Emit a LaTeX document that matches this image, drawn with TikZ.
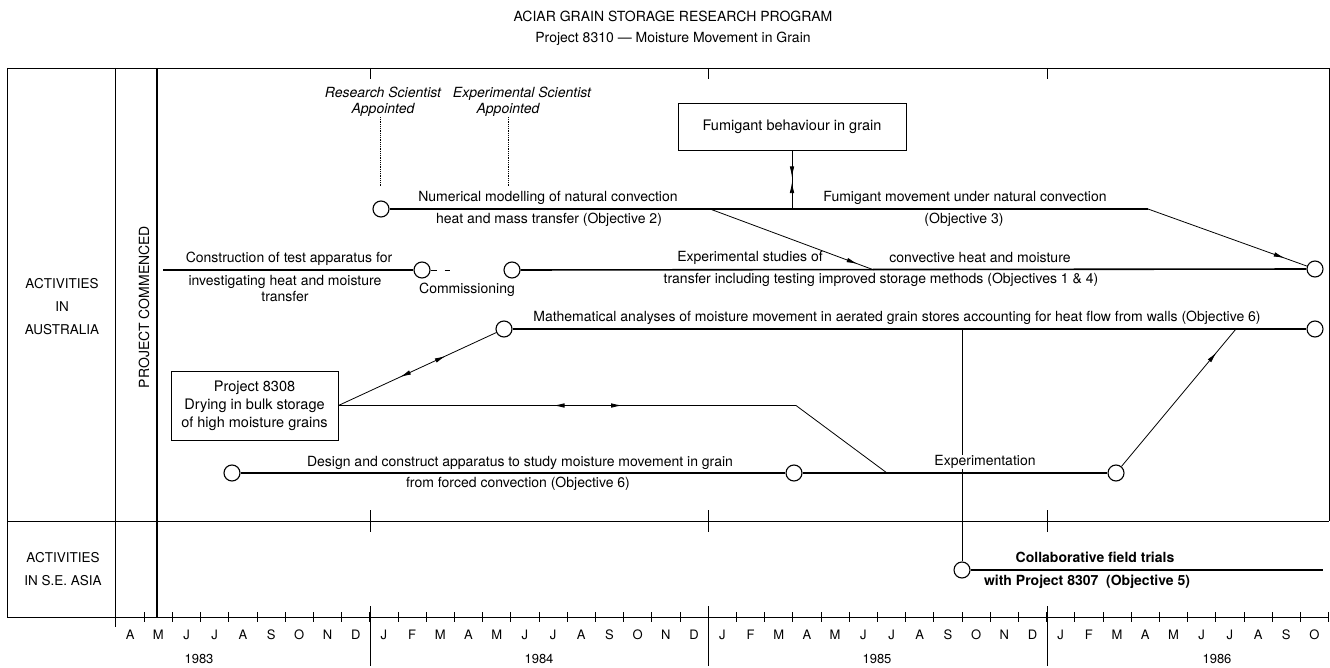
\documentclass[tikz,border=0pt]{standalone}
\usepackage{fontspec}
\setmainfont{TeX Gyre Heros}
\usetikzlibrary{arrows.meta,decorations.markings}

\tikzset{
  >={Latex[length=11pt,width=4.5pt]},
  fwd/.style={postaction={decorate,decoration={markings,mark=at position #1 with {\arrow{>}}}}},
  bwd/.style={postaction={decorate,decoration={markings,mark=at position #1 with {\arrowreversed{>}}}}},
}

\begin{document}
\begin{tikzpicture}[x=1pt, y=-1pt,
  lbl/.style={inner sep=0pt, align=center, font=\fontsize{14}{16}\selectfont},
  caps/.style={inner sep=0pt, align=center, font=\fontsize{13.5}{23}\selectfont},
  note/.style={inner sep=0pt, align=center, font=\fontsize{14}{15.5}\selectfont\itshape},
  month/.style={inner sep=0pt, font=\fontsize{13}{14}\selectfont},
  box/.style={rectangle, draw, line width=0.9pt, inner sep=0pt, align=center, font=\fontsize{14.5}{18}\selectfont},
  milestone/.style={circle, draw, line width=1.1pt, fill=white, minimum size=16pt, inner sep=0pt},
  gridline/.style={line width=0.8pt},
  act/.style={line width=1.6pt},
  conn/.style={line width=0.8pt}]
  \useasboundingbox (0,0) rectangle (1330,668);

  % heading
  \node[lbl] (title) at (673,16) {ACIAR GRAIN STORAGE RESEARCH PROGRAM};
  \node[lbl] (subtitle) at (673,39) {Project 8310 --- Moisture Movement in Grain};

  % frame and time axis
  \draw[gridline] (7,68) -- (1329,68);
  \draw[gridline] (7,68) -- (7,617) -- (1329,617);
  \draw[gridline] (115,68) -- (115,627);
  \draw[gridline] (7,521) -- (1329,521);
  \draw[gridline] (1329,68) -- (1329,521);
  \draw[line width=2.2pt] (157,68) -- (157,617);
  \foreach \x in {370,708,1047} {
    \draw[gridline] (\x,68) -- (\x,79);
    \draw[gridline] (\x,510) -- (\x,532);
    \draw[gridline] (\x,606) -- (\x,666);
  }
  \foreach \i in {1,...,43}
    \draw[gridline] ({116+28.2*\i},612) -- ({116+28.2*\i},622);
  \foreach \l [count=\i from 0] in {A,M,J,J,A,S,O,N,D,J,F,M,A,M,J,J,A,S,O,N,D,J,F,M,A,M,J,J,A,S,O,N,D,J,F,M,A,M,J,J,A,S,O}
    \node[month] at ({116+28.2*(\i+0.5)},635) {\l};
  \node[month] (y83) at (199,659) {1983};
  \node[month] (y84) at (539,659) {1984};
  \node[month] (y85) at (877,659) {1985};
  \node[month] (y86) at (1217,659) {1986};

  % row titles
  \node[caps] (aus) at (62,307) {ACTIVITIES\\IN\\AUSTRALIA};
  \node[caps] (asia) at (63,569) {ACTIVITIES\\IN S.E. ASIA};
  \node[lbl, rotate=90] (start) at (144,307) {PROJECT COMMENCED};

  % appointments
  \node[note] (rsci) at (383,102) {Research Scientist\\Appointed};
  \node[note] (esci) at (522,102) {Experimental Scientist\\\hspace*{-28pt}Appointed};
  \coordinate (rsciE) at (380,187);
  \coordinate (esciE) at (508,187);
  \draw[conn, densely dotted] (380,117) -- (rsciE);
  \draw[conn, densely dotted] (508,117) -- (esciE);

  % milestones
  \node[milestone] (rsStart) at (381,209) {};
  \node[milestone] (conA) at (422,270) {};
  \node[milestone] (conB) at (512,270) {};
  \node[milestone] (expEnd) at (1315,269) {};
  \node[milestone] (mathStart) at (504,329) {};
  \node[milestone] (mathEnd) at (1315,329) {};
  \node[milestone] (desStart) at (232,473) {};
  \node[milestone] (desEnd) at (794,473) {};
  \node[milestone] (exptEnd) at (1116,473) {};
  \node[milestone] (asiaStart) at (962,570) {};

  % boxes
  \node[box, minimum width=228pt, minimum height=47pt] (fumBox) at (792,126.5) {Fumigant behaviour in grain};
  \node[box, minimum width=167pt, minimum height=69pt] (p8308) at (254.5,405.5) {Project 8308\\Drying in bulk storage\\of high moisture grains};

  % junctions
  \coordinate (conStart) at (163,270);
  \coordinate (numJ) at (710,209);
  \coordinate (fumJ) at (792,209);
  \coordinate (fumEnd) at (1148,209);
  \coordinate (expJ) at (874,270);
  \coordinate (mathV) at (962,329);
  \coordinate (mathJ) at (1236,329);
  \coordinate (p8308J) at (796,405.5);
  \coordinate (desJ) at (887,473);
  \coordinate (asiaEnd) at (1323,570);

  % activity lines
  \draw[act] (rsStart) -- (fumEnd);
  \draw[act] (conStart) -- (conA);
  \draw[conn, dash pattern=on 6pt off 8pt on 5pt off 60pt] (conA) -- (conB);
  \draw[act] (conB) -- (expEnd);
  \draw[act] (mathStart) -- (mathEnd);
  \draw[act] (desStart) -- (desEnd);
  \draw[act] (desEnd) -- (exptEnd);
  \draw[act] (asiaStart) -- (asiaEnd);

  % links
  \draw[conn, fwd=0.9] (numJ) -- (expJ);
  \draw[conn, fwd=0.86] (fumEnd) -- (expEnd);
  \draw[conn, fwd=0.46, bwd=0.54] (fumBox) -- (fumJ);
  \draw[conn, bwd=0.47, fwd=0.62] (p8308.east) -- (p8308J);
  \draw[conn] (p8308J) -- (desJ);
  \draw[conn, bwd=0.39, fwd=0.68] (p8308.east) -- (mathStart);
  \draw[conn, fwd=0.83] (exptEnd) -- (mathJ);
  \draw[conn] (mathV) -- (asiaStart);

  % activity texts
  \node[lbl] (numA) at (548,198) {Numerical modelling of natural convection};
  \node[lbl] (numB) at (549,220) {heat and mass transfer (Objective 2)};
  \node[lbl] (fumA) at (965,198) {Fumigant movement under natural convection};
  \node[lbl] (fumB) at (964,220) {(Objective 3)};
  \node[lbl] (conTxtA) at (289,259) {Construction of test apparatus for};
  \node[lbl] (conTxtB) at (285,289) {investigating heat and moisture\\transfer};
  \node[lbl] (comm) at (467,290) {Commissioning};
  \node[lbl] (expA) at (750,258) {Experimental studies of};
  \node[lbl] (expB) at (980,258) {convective heat and moisture};
  \node[lbl] (expC) at (881,280) {transfer including testing improved storage methods (Objectives 1 \& 4)};
  \node[lbl] (mathTxt) at (897,318) {Mathematical analyses of moisture movement in aerated grain stores accounting for heat flow from walls (Objective 6)};
  \node[lbl] (desA) at (520,463) {Design and construct apparatus to study moisture movement in grain};
  \node[lbl] (desB) at (518,484) {from forced convection (Objective 6)};
  \node[lbl, fill=white, inner xsep=2pt] (expt) at (985,462) {Experimentation};
  \node[lbl] (asiaA) at (1095,557) {\bfseries Collaborative field trials};
  \node[lbl] (asiaB) at (1087,582) {\bfseries with Project 8307 \ (Objective 5)};
\end{tikzpicture}
\end{document}
